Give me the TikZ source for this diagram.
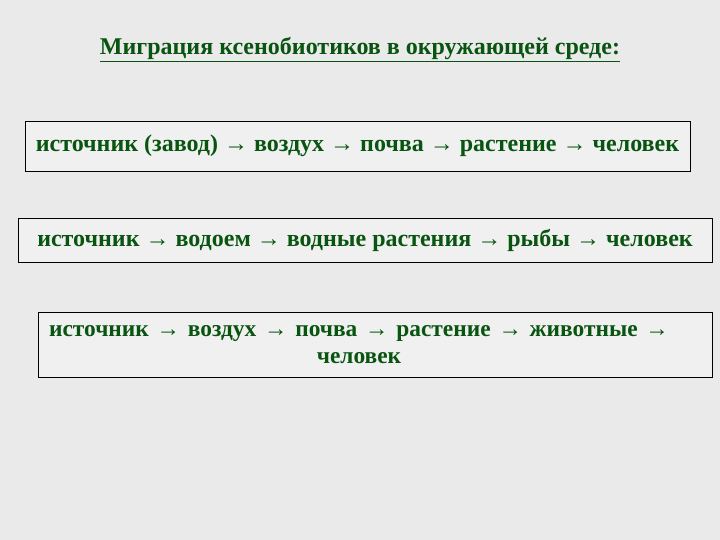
\documentclass[tikz,border=0pt]{standalone}
\usepackage{fontspec}
\setmainfont{Liberation Serif}
\usepackage{xcolor}
\usetikzlibrary{positioning}
\definecolor{bggray}{RGB}{234,234,234}
\definecolor{boxgray}{RGB}{240,240,240}
\definecolor{textgreen}{RGB}{8,84,16}
\tikzset{pathbox/.style={draw=black, line width=0.8pt, fill=boxgray, inner sep=0pt,
    font=\bfseries\fontsize{24}{27}\selectfont, text=textgreen, align=center}}
\tikzset{titletext/.style={font=\bfseries\fontsize{24}{28}\selectfont, text=textgreen}}

\begin{document}
\begin{tikzpicture}[x=1pt, y=-1pt]
                        \fill[bggray] (0, 0) rectangle (720, 540);
                        \useasboundingbox (0, 0) rectangle (720, 540);

                        \node[titletext] (title) at (360, 50) {\underline{Миграция ксенобиотиков в окружающей среде:}};

                        \node[pathbox, minimum width=665pt, minimum height=50pt] (air) at (357.5, 146)
                        {источник (завод) → воздух → почва → растение → человек};

                        \node[pathbox, minimum width=694pt, minimum height=44pt] (water) at (365, 240)
                        {источник → водоем → водные растения → рыбы → человек};

                        \node[pathbox, minimum width=674pt, minimum height=65pt] (animal) at (375, 344.5) {};
                        \node[pathbox, draw=none, fill=none, text width=640pt,
                        font=\bfseries\fontsize{23.4}{27}\selectfont] (animaltext) at (359, 344.5)
                        {источник → воздух → почва → растение → животные →\\ человек};
                    \end{tikzpicture}
\end{document}
